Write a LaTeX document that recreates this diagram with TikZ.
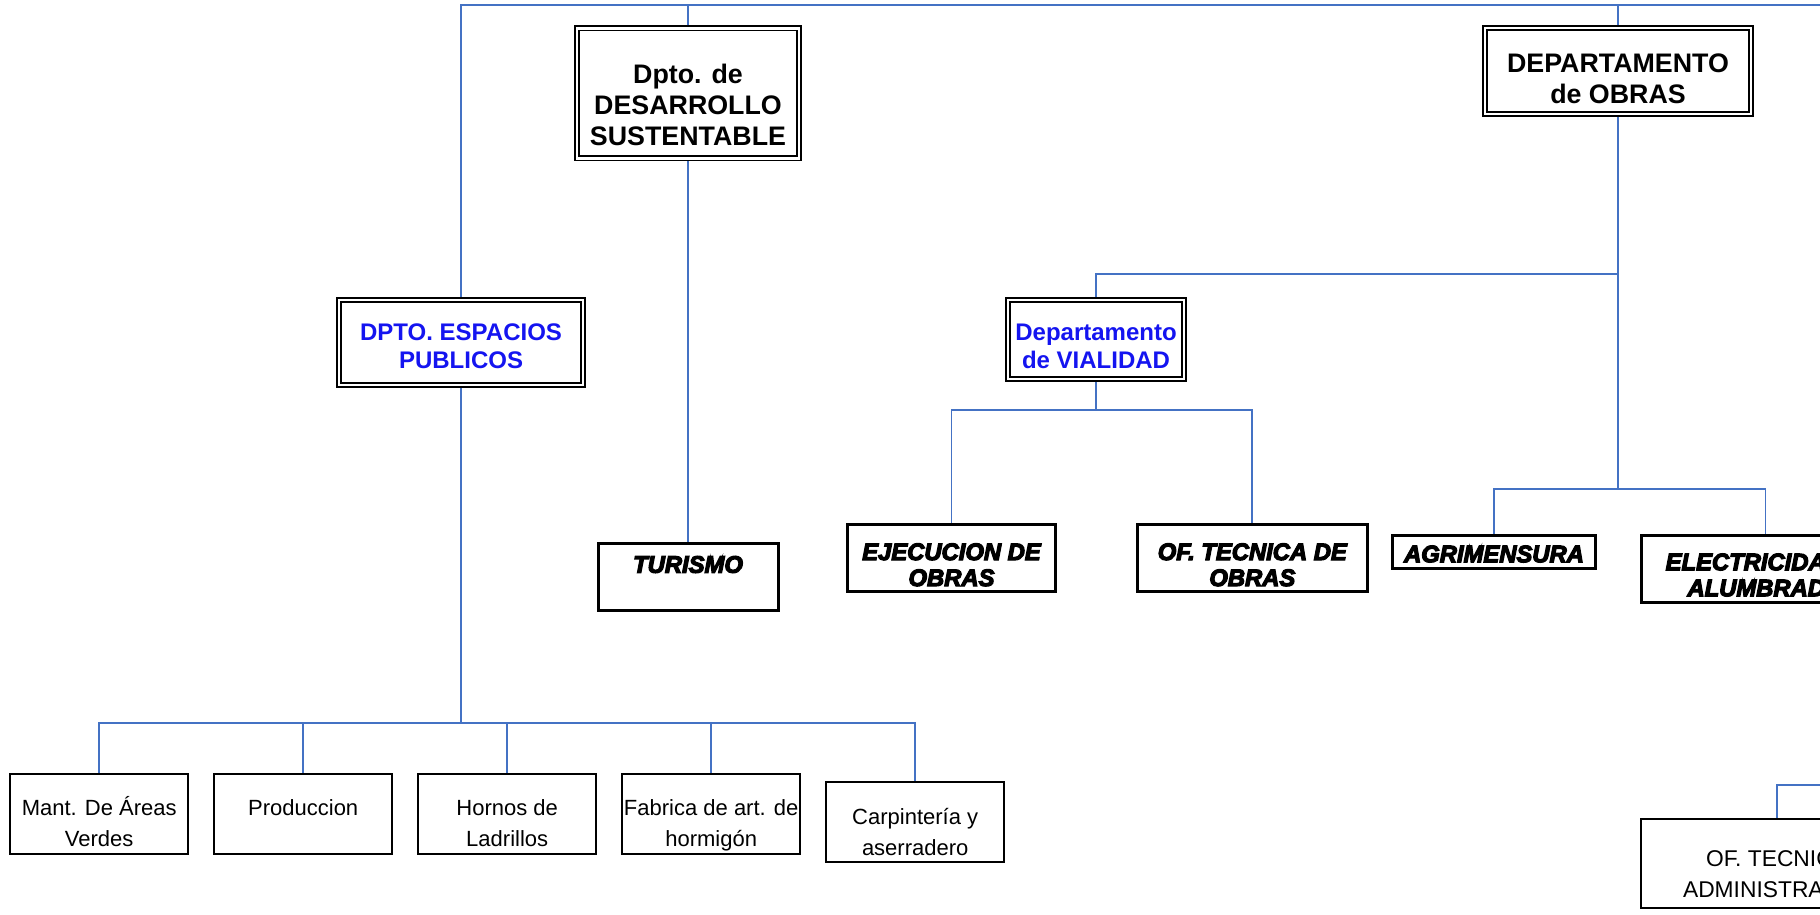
\documentclass[tikz,border=0pt]{standalone}
\usepackage{fontspec}
\setmainfont{Liberation Sans}
\newfontfamily\heavyfont[BoldItalicFeatures={FakeBold=5}]{Liberation Sans}
\usepackage{tikz}
\usetikzlibrary{positioning,calc}
\definecolor{linkblue}{HTML}{4472C4}
\definecolor{deptblue}{HTML}{1414F0}
\def\RowGap{24pt}
\def\TopBar{5}
% lines of a box, lowered by #1
\newcommand{\boxlines}[2]{\raisebox{-#1}[\height][\depth]{\begin{tabular}{@{}c@{}}#2\end{tabular}}}

\begin{document}
\begin{tikzpicture}[x=1pt,y=-1pt,
	link/.style={draw=linkblue,line width=1.8pt},
	dbox/.style={draw,line width=1.7pt,double,double distance=2.6pt,outer sep=3pt,inner sep=1pt},
	hbox/.style={draw,line width=3pt,inner sep=1pt,font=\fontsize{23.8}{26}\heavyfont\bfseries\itshape},
	pbox/.style={draw,line width=2pt,inner sep=1pt,minimum width=178pt,minimum height=80.5pt,font=\fontsize{22}{31}\selectfont},
	headtxt/.style={font=\fontsize{26.8}{31}\selectfont\bfseries},
	bluetxt/.style={text=deptblue,font=\fontsize{24}{28}\selectfont\bfseries}]
	\useasboundingbox (0,0) rectangle (1820,914);
	\clip (0,0) rectangle (1820,914);
	\fill[white] (0,0) rectangle (1820,914);
	% 
	\node[dbox,headtxt,minimum width=222pt,minimum height=130pt] (dsus) at (688,93.4) {\boxlines{15pt}{Dpto. de\\DESARROLLO\\SUSTENTABLE}};
	\node[dbox,headtxt,minimum width=266pt,minimum height=86pt] (obras) at (1618,71) {\boxlines{10.3pt}{DEPARTAMENTO\\de OBRAS}};
	% 
	\node[dbox,bluetxt,minimum width=244pt,minimum height=85pt] (espub) at (461,342.5) {\boxlines{6.8pt}{DPTO. ESPACIOS\\PUBLICOS}};
	\node[dbox,bluetxt,minimum width=176pt,minimum height=79pt] (vial) at (1096,339.5) {\boxlines{9.5pt}{Departamento\\de VIALIDAD}};
	% 
	\node[hbox,minimum width=180pt,minimum height=67pt] (tur) at (688,577.3) {\boxlines{-9.8pt}{TURISMO}};
	\node[hbox,minimum width=208pt,minimum height=67pt] (ejec) at (951.5,557.8) {\boxlines{10pt}{EJECUCION DE\\OBRAS}};
	\node[hbox,minimum width=229.5pt,minimum height=67pt] (oftec) at (1252.3,557.8) {\boxlines{10pt}{OF. TECNICA DE\\OBRAS}};
	\node[hbox,minimum width=203.5pt,minimum height=33pt] (agrim) at (1494,552) {\boxlines{5pt}{AGRIMENSURA}};
	\node[hbox,minimum width=248pt,minimum height=66.6pt] (elec) at (1765.5,568.8) {\boxlines{9.2pt}{ELECTRICIDAD Y\\ALUMBRADO}};
	% 
	\node[pbox] (mant) at (99.2,814.2) {\boxlines{11pt}{Mant. De Áreas\\Verdes}};
	\node[pbox,right=\RowGap of mant] (prod) {\boxlines{-4.7pt}{Produccion}};
	\node[pbox,right=\RowGap of prod] (horn) {\boxlines{11pt}{Hornos de\\Ladrillos}};
	\node[pbox,right=\RowGap of horn] (fabr) {\boxlines{11pt}{Fabrica de art. de\\hormigón}};
	\node[pbox,right=\RowGap of fabr,yshift=-8pt] (carp) {\boxlines{12pt}{Carpintería y\\aserradero}};
	\node[pbox,minimum width=272pt,minimum height=89pt,font=\fontsize{22.8}{31}\selectfont] (ofadm) at (1777,863.5) {\boxlines{12.7pt}{OF. TECNICA\\ADMINISTRATIVA}};
	% 
	\coordinate (topR) at (1830,\TopBar);
	\coordinate (vialjoin) at (1618,274);
	\coordinate (obrasbus) at (1618,488.7);
	\coordinate (vialbus) at (1096,409.7);
	\coordinate (espbus) at (461,723);
	\coordinate (admR) at (1830,784.6);
	% 
	\draw[link] (espub.north) |- (topR);
	\draw[link] (dsus.north) -- (dsus.north |- topR);
	\draw[link] (obras.north) -- (obras.north |- topR);
	\draw[link] (dsus.south) -- (tur.north);
	\draw[link] (obras.south) -- (obrasbus);
	\draw[link] (vial.north) |- (vialjoin);
	\draw[link] (agrim.north) |- (obrasbus) -| (elec.north);
	\draw[link] (vial.south) -- (vialbus);
	\draw[link] (ejec.north) |- (vialbus) -| (oftec.north);
	\draw[link] (espub.south) -- (espbus);
	\draw[link] (mant.north) |- (espbus) -| (carp.north);
	\foreach \n in {prod,horn,fabr} \draw[link] (\n.north) -- (\n.north |- espbus);
	\draw[link] (ofadm.north) |- (admR);
\end{tikzpicture}
\end{document}
